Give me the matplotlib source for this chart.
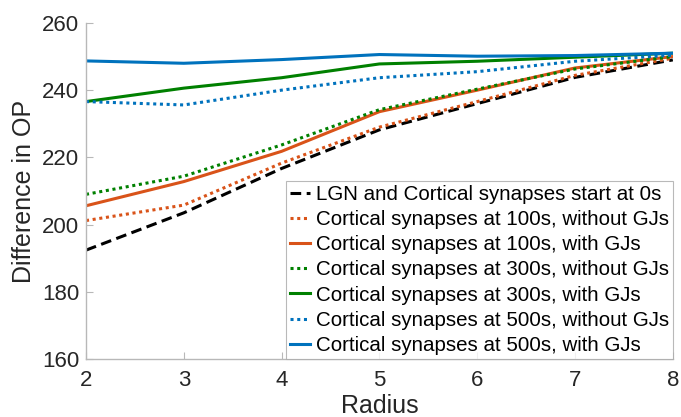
import matplotlib
matplotlib.use("Agg")
from matplotlib import pyplot as plt
import numpy as np

plt.rcParams['font.family'] = ['Liberation Sans', 'DejaVu Sans']

radius = [2, 3, 4, 5, 6, 7, 8]

lgn_cortical_0s = [192.4, 203.5, 216.7, 228.2, 236.0, 243.8, 249.0]
cort_100_nogj = [201.2, 205.8, 218.3, 229.0, 236.6, 244.4, 249.5]
cort_100_gj = [205.6, 212.8, 221.8, 233.6, 240.0, 246.6, 250.0]
cort_300_nogj = [209.0, 214.4, 223.7, 234.2, 240.3, 246.3, 250.0]
cort_300_gj = [236.6, 240.6, 243.7, 247.8, 248.6, 249.8, 251.0]
cort_500_nogj = [236.6, 235.6, 240.0, 243.7, 245.5, 248.6, 250.4]
cort_500_gj = [248.7, 248.0, 249.1, 250.6, 250.1, 250.3, 251.0]

labels = ["LGN and Cortical synapses start at 0s",
          "Cortical synapses at 100s, without GJs",
          "Cortical synapses at 100s, with GJs",
          "Cortical synapses at 300s, without GJs",
          "Cortical synapses at 300s, with GJs",
          "Cortical synapses at 500s, without GJs",
          "Cortical synapses at 500s, with GJs"]

blue = "#0072BD"
orange = "#D95319"
green = "#008000"
lw = 2.2
dotted = (0, (1, 1.2))

fig = plt.figure(figsize=(6.81, 4.17), dpi=100)
ax = fig.add_axes([0.1263, 0.139, 0.8617, 0.806])

ax.plot(radius, lgn_cortical_0s, color="black", ls=(0, (3.5, 1.8)), lw=lw, label=labels[0])
ax.plot(radius, cort_100_nogj, color=orange, ls=dotted, lw=lw, label=labels[1])
ax.plot(radius, cort_100_gj, color=orange, ls="-", lw=lw, label=labels[2])
ax.plot(radius, cort_300_nogj, color=green, ls=dotted, lw=lw, label=labels[3])
ax.plot(radius, cort_300_gj, color=green, ls="-", lw=lw, label=labels[4])
ax.plot(radius, cort_500_nogj, color=blue, ls=dotted, lw=lw, label=labels[5])
ax.plot(radius, cort_500_gj, color=blue, ls="-", lw=lw, label=labels[6])

ax.set_xlim(2, 8)
ax.set_ylim(160, 260)
ax.set_yticks([160, 180, 200, 220, 240, 260])
ax.spines['top'].set_visible(False)
ax.spines['right'].set_visible(False)
for s in ['left', 'bottom']:
    ax.spines[s].set_color("#b8b8b8")
    ax.spines[s].set_linewidth(1.0)
ax.tick_params(direction='in', length=5, color="#b8b8b8", labelsize=16,
               labelcolor="#262626")
ax.tick_params(axis='y', pad=5)
ax.tick_params(axis='x', pad=8)

ax.set_xlabel("Radius", fontsize=18, color="#262626")
ax.xaxis.label.set_va('top')
ax.xaxis.set_label_coords(0.5, -0.103)
ax.set_ylabel("Difference in OP", fontsize=18, color="#262626")
ax.yaxis.label.set_va('center')
ax.yaxis.set_label_coords(-0.106, 0.5)

leg = ax.legend(loc="lower right", bbox_to_anchor=(1.0, 0.0), fontsize=14.8,
                frameon=True, fancybox=False, borderaxespad=0, handlelength=1.0,
                handletextpad=0.25, labelspacing=0.3, borderpad=0.2)
leg.get_frame().set_edgecolor("#a8a8a8")
leg.get_frame().set_linewidth(0.8)

fig.savefig("out.png", dpi=100)
